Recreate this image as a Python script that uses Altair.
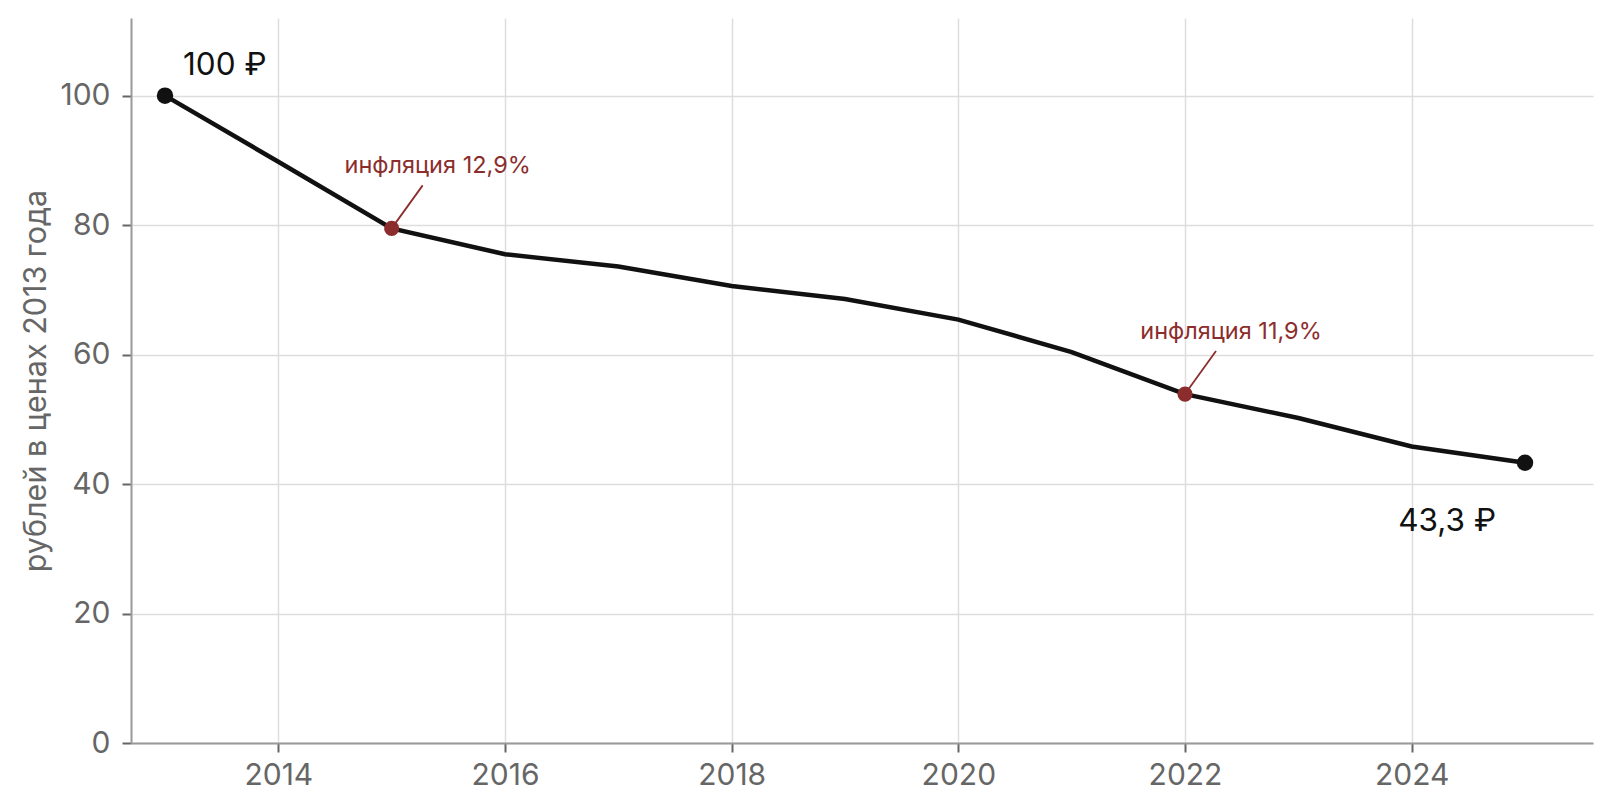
import altair as alt
import pandas as pd

years = [2013, 2014, 2015, 2016, 2017, 2018, 2019, 2020, 2021, 2022, 2023, 2024, 2025]
values = [100.0, 89.8, 79.5, 75.5, 73.6, 70.6, 68.6, 65.4, 60.4, 53.9, 50.2, 45.8, 43.3]

end_years = [2013, 2025]
end_labels = ["100 ₽", "43,3 ₽"]

infl_years = [2015, 2022]
infl_labels = ["инфляция 12,9%", "инфляция 11,9%"]

x_ticks = [2014, 2016, 2018, 2020, 2022, 2024]
y_ticks = [0, 20, 40, 60, 80, 100]
y_title = "рублей в ценах 2013 года"

BLACK = "#111111"
RED = "#8c2d2d"
GREY = "#666666"

df = pd.DataFrame({"year": years, "value": values})
val = dict(zip(years, values))
ends = pd.DataFrame({"year": end_years, "value": [val[y] for y in end_years], "label": end_labels})
infl = pd.DataFrame({"year": infl_years, "value": [val[y] for y in infl_years], "label": infl_labels})

x_enc = alt.X("year:Q", scale=alt.Scale(domain=[2012.7, 2025.6], nice=False, zero=False),
              axis=alt.Axis(values=x_ticks, format="d", title=None, grid=True,
                            labelFontSize=30, labelColor=GREY, labelPadding=8,
                            tickSize=9, tickWidth=2, tickColor=GREY,
                            domainColor="#999999", domainWidth=2,
                            gridColor="#dddddd", gridWidth=1.5))
y_enc = alt.Y("value:Q", scale=alt.Scale(domain=[0, 112], nice=False),
              axis=alt.Axis(values=y_ticks, title=y_title, grid=True,
                            labelFontSize=30, labelColor=GREY, labelPadding=12,
                            titleFontSize=30.5, titleColor=GREY, titleFontWeight="normal",
                            titlePadding=8,
                            tickSize=9, tickWidth=2, tickColor=GREY,
                            domainColor="#999999", domainWidth=2,
                            gridColor="#dddddd", gridWidth=1.5))

base = alt.Chart(df)
line = base.mark_line(color=BLACK, strokeWidth=4.5).encode(x=x_enc, y=y_enc)

conn = alt.Chart(infl).mark_rule(color=RED, strokeWidth=1.8, x2Offset=31, y2Offset=-43).encode(
    x="year:Q", x2="year:Q", y="value:Q", y2="value:Q")

end_pts = alt.Chart(ends).mark_circle(size=270, color=BLACK, opacity=1).encode(
    x="year:Q", y="value:Q")
infl_pts = alt.Chart(infl).mark_circle(size=230, color=RED, opacity=1).encode(
    x="year:Q", y="value:Q")

t_start = alt.Chart(ends[ends.year == 2013]).mark_text(
    align="left", baseline="alphabetic", dx=18, dy=-21, fontSize=31.5, color=BLACK, font="Inter").encode(
    x="year:Q", y="value:Q", text="label:N")
t_end = alt.Chart(ends[ends.year == 2025]).mark_text(
    align="right", baseline="alphabetic", dx=-29, dy=68, fontSize=31.5, color=BLACK, font="Inter").encode(
    x="year:Q", y="value:Q", text="label:N")
t_infl = alt.Chart(infl).mark_text(
    align="center", baseline="alphabetic", dx=46, dy=-55, fontSize=23.5, color=RED, font="Inter").encode(
    x="year:Q", y="value:Q", text="label:N")

chart = alt.layer(line, conn, end_pts, infl_pts, t_start, t_end, t_infl).properties(
    width=1462, height=725,
    autosize=alt.AutoSizeParams(type="none"),
    padding={"left": 123, "top": 10, "right": 11, "bottom": 60},
    background="white",
).configure(font="Inter").configure_view(stroke=None).configure_axis(labelFont="Inter", titleFont="Inter")

chart.save("out.html", embed_options={"renderer": "svg", "actions": False})
